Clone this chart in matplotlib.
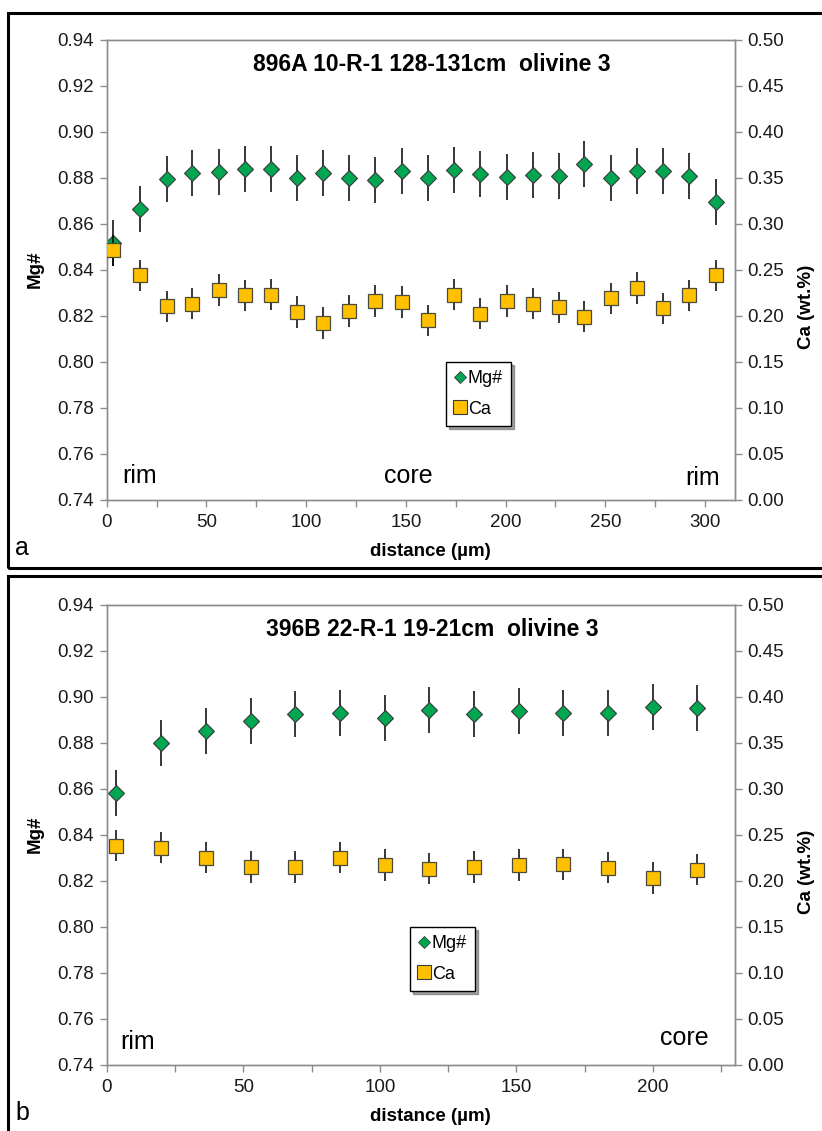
#!/usr/bin/env python3

import numpy as np
import matplotlib
matplotlib.use('Agg')
import matplotlib.pyplot as plt
from matplotlib.patches import Rectangle
from matplotlib.lines import Line2D

plt.rcParams['font.family'] = ['Liberation Sans', 'DejaVu Sans']

#%% data, panel a (896A 10-R-1)
dist_a = [3.3, 16.7, 30.0, 43.0, 56.2, 69.2, 82.2, 95.3, 108.3, 121.7, 134.7, 147.8,
          161.2, 174.2, 187.0, 200.5, 213.7, 226.7, 239.5, 252.8, 265.8, 278.8, 292.0, 305.5]
mg_a = [0.8515, 0.8663, 0.8794, 0.8819, 0.8823, 0.8838, 0.8838, 0.8800, 0.8820, 0.8800,
        0.8790, 0.8830, 0.8800, 0.8833, 0.8815, 0.8804, 0.8812, 0.8809, 0.8858, 0.8800,
        0.8829, 0.8829, 0.8807, 0.8696]
ca_a = [0.271, 0.244, 0.210, 0.213, 0.228, 0.222, 0.223, 0.204, 0.192, 0.205, 0.216, 0.215,
        0.195, 0.223, 0.202, 0.216, 0.213, 0.209, 0.199, 0.219, 0.230, 0.208, 0.222, 0.244]

#%% data, panel b (396B 22-R-1)
dist_b = [3.4, 19.9, 36.2, 52.7, 68.9, 85.4, 101.8, 118.0, 134.4, 150.8, 167.1, 183.5, 199.8, 216.1]
mg_b = [0.8583, 0.8800, 0.8852, 0.8894, 0.8923, 0.8928, 0.8909, 0.8942, 0.8923, 0.8938,
        0.8928, 0.8928, 0.8957, 0.8950]
ca_b = [0.238, 0.236, 0.225, 0.215, 0.215, 0.225, 0.217, 0.213, 0.215, 0.217, 0.218,
        0.214, 0.203, 0.212]

mg_err = 0.010
ca_err = 0.017

W, H = 822, 1131
GREEN = '#00a650'
GOLD = '#ffc000'
SPINE = '#8c8c8c'


def px(x, y):
    return x / W, 1 - y / H


def panel(fig, ytop, dist, mg, ca, xmax, xmaj, title, labels, leg_xy, letter, box):
    ybot = ytop + 460
    l, b = px(106.7, ybot)
    ax = fig.add_axes([l, b, 628.3 / W, 460 / H])
    ax2 = ax.twinx()

    ax.errorbar(dist, mg, yerr=mg_err, fmt='D', ms=8, mfc=GREEN, mec='#3a3a3a', mew=0.8,
                ecolor='black', elinewidth=1.1, capsize=0, zorder=3)
    ax2.errorbar(dist, ca, yerr=ca_err, fmt='s', ms=9.5, mfc=GOLD, mec='#4a4a3a', mew=0.9,
                 ecolor='black', elinewidth=1.1, capsize=0, zorder=3)

    ax.set_xlim(0, xmax)
    ax.set_ylim(0.74, 0.94)
    ax2.set_ylim(0.0, 0.5)
    ax.set_xticks(np.arange(0, xmax, xmaj))
    ax.set_xticks(np.arange(0, xmax, xmaj / 2), minor=True)
    ax.set_yticks(np.arange(0.74, 0.9401, 0.02))
    ax.set_yticklabels(['%.2f' % v for v in np.arange(0.74, 0.9401, 0.02)])
    ax2.set_yticks(np.arange(0, 0.501, 0.05))
    ax2.set_yticklabels(['%.2f' % v for v in np.arange(0, 0.501, 0.05)])

    for a in (ax, ax2):
        for s in a.spines.values():
            s.set_color(SPINE)
            s.set_linewidth(1.0)
        a.tick_params(which='both', length=5, width=1, color=SPINE, labelsize=13.5,
                      labelcolor='#1a1a1a', pad=4)
    ax.tick_params(axis='x', pad=5)

    ax.set_ylabel('Mg#', fontsize=13.5, fontweight='bold')
    ax.yaxis.set_label_coords(-0.1, 0.5)
    ax2.set_ylabel('Ca (wt.%)', fontsize=13.5, fontweight='bold')
    ax2.yaxis.set_label_coords(1.1, 0.42)
    ax.set_xlabel('distance (µm)', fontsize=13.5, fontweight='bold')
    ax.xaxis.set_label_coords((430 - 106.7) / 628.3, -0.095)

    fig.text(*px(432, ytop + 25), title, fontsize=16.5, fontweight='bold',
             ha='center', va='center')
    for txt, x, y in labels:
        fig.text(*px(x, y), txt, fontsize=18, ha='center', va='center')
    fig.text(*px(22, ybot + 48), letter, fontsize=18, ha='center', va='center')

    handles = [Line2D([], [], ls='none', marker='D', ms=6.5, mfc=GREEN, mec='#3a3a3a', mew=0.6),
               Line2D([], [], ls='none', marker='s', ms=10, mfc=GOLD, mec='#3a3a3a', mew=0.8)]
    leg = ax2.legend(handles, ['Mg#', 'Ca'], loc='upper left',
                     bbox_to_anchor=px(*leg_xy), bbox_transform=fig.transFigure,
                     fontsize=13, frameon=True, fancybox=False, shadow=True,
                     handlelength=0.6, handletextpad=0.15, labelspacing=0.75,
                     borderpad=0.45, borderaxespad=0)
    leg.get_frame().set_edgecolor('black')
    leg.get_frame().set_linewidth(1.0)

    x0, y0 = box[0], box[1]
    r = Rectangle(px(x0, y0 + box[2]), (W + 10 - x0) / W, box[2] / H, transform=fig.transFigure,
                  fill=False, ec='black', lw=2.2, clip_on=False)
    fig.patches.append(r)
    return ax, ax2


def main():
    fig = plt.figure(figsize=(W / 100, H / 100), dpi=100)
    panel(fig, 39.7, dist_a, mg_a, ca_a, 315, 50, '896A 10-R-1 128-131cm  olivine 3',
          [('rim', 140, 476), ('core', 408, 476), ('rim', 703, 478)],
          (446, 362), 'a', (8, 13, 555))
    panel(fig, 604.7, dist_b, mg_b, ca_b, 230, 50, '396B 22-R-1 19-21cm  olivine 3',
          [('rim', 138, 1042), ('core', 684, 1038)],
          (410, 927), 'b', (8, 576, 560))
    fig.savefig('out.png', dpi=100)


if __name__ == "__main__":
    main()
